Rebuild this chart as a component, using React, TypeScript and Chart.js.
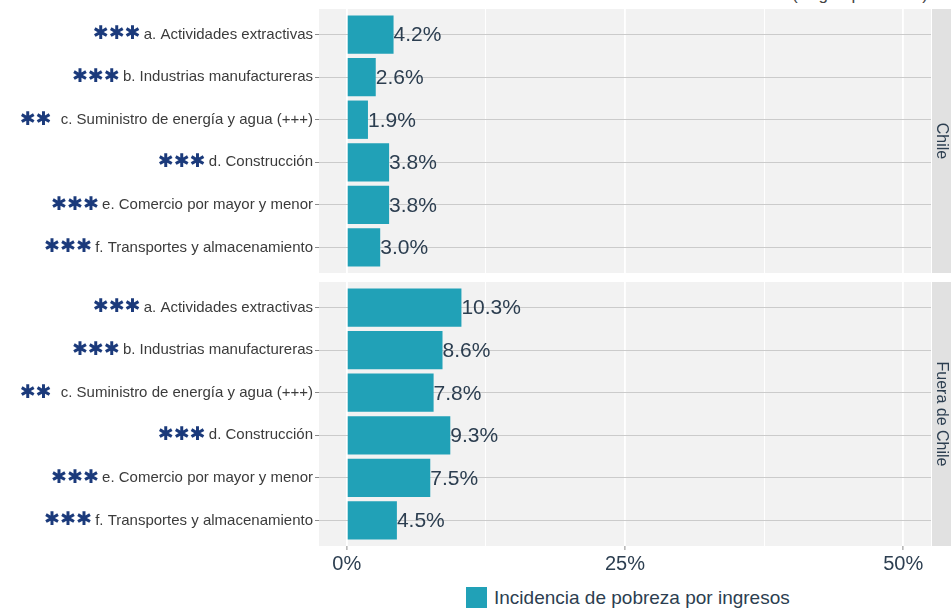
import React, { useEffect, useRef } from 'react';
import { Chart, registerables } from 'chart.js';

Chart.register(...registerables);

// ---- data ----
const categories = [
  'a. Actividades extractivas',
  'b. Industrias manufactureras',
  'c. Suministro de energía y agua (+++)',
  'd. Construcción',
  'e. Comercio por mayor y menor',
  'f. Transportes y almacenamiento',
];
const significance = ['***', '***', '** ', '***', '***', '***'];
const chileValues = [4.2, 2.6, 1.9, 3.8, 3.8, 3.0];
const fueraValues = [10.3, 8.6, 7.8, 9.3, 7.5, 4.5];
const facetLabels = ['Chile', 'Fuera de Chile'];
const xTickValues = [0, 12.5, 25, 37.5, 50];
const seriesLabel = 'Incidencia de pobreza por ingresos';
const cornerNote = '(Según promedio)';

// ---- styles ----
const FONT = '"Liberation Sans", Arial, sans-serif';
const BAR = '#21a1b7';
const PANEL = '#f2f2f2';
const STRIP = '#e1e1e1';
const TEXT = '#2c3e50';
const YTEXT = '#3b3b3b';
const STAR = '#1b3a7b';

function makePlugin(facet: string, values: number[]) {
  return {
    id: 'facetDecor',
    beforeDraw(chart: any) {
      const { ctx, chartArea: a } = chart;
      ctx.save();
      ctx.fillStyle = PANEL;
      ctx.fillRect(a.left, a.top, a.right - a.left, a.bottom - a.top);
      ctx.fillStyle = STRIP;
      ctx.fillRect(a.right + 1, a.top, 30, a.bottom - a.top);
      ctx.translate(a.right + 10, (a.top + a.bottom) / 2);
      ctx.rotate(Math.PI / 2);
      ctx.font = `16px ${FONT}`;
      ctx.fillStyle = TEXT;
      ctx.textAlign = 'center';
      ctx.textBaseline = 'middle';
      ctx.fillText(facet, 0, 0);
      ctx.restore();
    },
    afterDatasetsDraw(chart: any) {
      const { ctx } = chart;
      const meta = chart.getDatasetMeta(0);
      ctx.save();
      ctx.font = `21px ${FONT}`;
      ctx.fillStyle = TEXT;
      ctx.textAlign = 'left';
      ctx.textBaseline = 'middle';
      meta.data.forEach((bar: any, i: number) => {
        ctx.fillText(values[i].toFixed(1) + '%', bar.x, bar.y + 1);
      });
      ctx.restore();
    },
    afterDraw(chart: any) {
      const { ctx, chartArea: a } = chart;
      const ys = chart.scales.y;
      ctx.save();
      categories.forEach((label, i) => {
        ctx.font = `15px ${FONT}`;
        const w = ctx.measureText(label).width;
        const xr = a.left - 4 - 2 - w - 3;
        ctx.font = `19px "DejaVu Sans", sans-serif`;
        ctx.fillStyle = STAR;
        ctx.textAlign = 'right';
        ctx.textBaseline = 'middle';
        ctx.fillText(significance[i].replace(/\*/g, '\u2731'), xr, ys.getPixelForValue(i));
      });
      ctx.restore();
    },
  };
}

function makeChart(canvas: HTMLCanvasElement, values: number[], facet: string, showX: boolean) {
  return new Chart(canvas, {
    type: 'bar',
    data: {
      datasets: [
        {
          label: seriesLabel,
          data: values.map((v, i) => ({ x: v, y: i })),
          backgroundColor: BAR,
          borderWidth: 0,
          barPercentage: 0.9,
          categoryPercentage: 1,
        },
      ],
    },
    options: {
      indexAxis: 'y',
      animation: false,
      responsive: false,
      maintainAspectRatio: false,
      layout: { padding: { top: 9, right: 20, bottom: showX ? 0 : 9, left: 0 } },
      plugins: { legend: { display: false }, tooltip: { enabled: false } },
      scales: {
        x: {
          type: 'linear',
          min: -2.5,
          max: 52.5,
          offset: false,
          afterBuildTicks: (s: any) => {
            s.ticks = xTickValues.map((v) => ({ value: v }));
          },
          afterFit: (s: any) => {
            s.height = showX ? 34 : 0;
          },
          border: { display: false },
          grid: {
            offset: false,
            color: '#ffffff',
            lineWidth: (c: any) => (c.tick && c.tick.value % 25 === 0 ? 1.8 : 1),
            drawTicks: showX,
            tickLength: 4,
            tickWidth: 1,
            tickColor: (c: any) => (c.tick && c.tick.value % 25 === 0 ? '#8c8c8c' : 'rgba(0,0,0,0)'),
          },
          ticks: {
            display: showX,
            autoSkip: false,
            maxRotation: 0,
            padding: 2,
            color: TEXT,
            font: { family: FONT, size: 20 },
            callback: (v: any) => (Number(v) % 25 === 0 ? v + '%' : ''),
          },
        },
        y: {
          type: 'linear',
          reverse: true,
          min: -0.6,
          max: 5.6,
          offset: false,
          afterBuildTicks: (s: any) => {
            s.ticks = categories.map((_, i) => ({ value: i }));
          },
          afterFit: (s: any) => {
            s.width = 319;
            s.paddingTop = 0;
            s.paddingBottom = 0;
          },
          border: { display: false },
          grid: { offset: false, color: '#cbcbcb', lineWidth: 1, tickLength: 4, tickColor: '#8c8c8c' },
          ticks: {
            autoSkip: false,
            padding: 2,
            color: YTEXT,
            font: { family: FONT, size: 15 },
            callback: (v: any) => categories[Number(v)] ?? '',
          },
        },
      },
    },
    plugins: [makePlugin(facet, values)],
  } as any);
}

export default function App() {
  const topRef = useRef<HTMLCanvasElement>(null);
  const botRef = useRef<HTMLCanvasElement>(null);

  useEffect(() => {
    const c1 = makeChart(topRef.current!, chileValues, facetLabels[0], false);
    const c2 = makeChart(botRef.current!, fueraValues, facetLabels[1], true);
    return () => {
      c1.destroy();
      c2.destroy();
    };
  }, []);

  return (
    <div
      style={{
        position: 'fixed',
        left: 0,
        top: 0,
        width: 951,
        height: 609,
        overflow: 'hidden',
        background: '#ffffff',
        fontFamily: FONT,
      }}
    >
      <div
        style={{
          position: 'absolute',
          right: 23,
          top: -15,
          fontSize: 17,
          color: '#444',
          whiteSpace: 'nowrap',
        }}
      >
        {cornerNote}
      </div>
      <canvas ref={topRef} width={951} height={282} style={{ position: 'absolute', left: 0, top: 0 }} />
      <canvas ref={botRef} width={951} height={307} style={{ position: 'absolute', left: 0, top: 273 }} />
      <div
        style={{
          position: 'absolute',
          left: 466,
          top: 587,
          display: 'flex',
          alignItems: 'center',
          height: 21,
        }}
      >
        <div style={{ width: 21, height: 21, background: BAR, marginRight: 7 }} />
        <span style={{ fontSize: 19, color: TEXT, lineHeight: '21px' }}>{seriesLabel}</span>
      </div>
    </div>
  );
}
